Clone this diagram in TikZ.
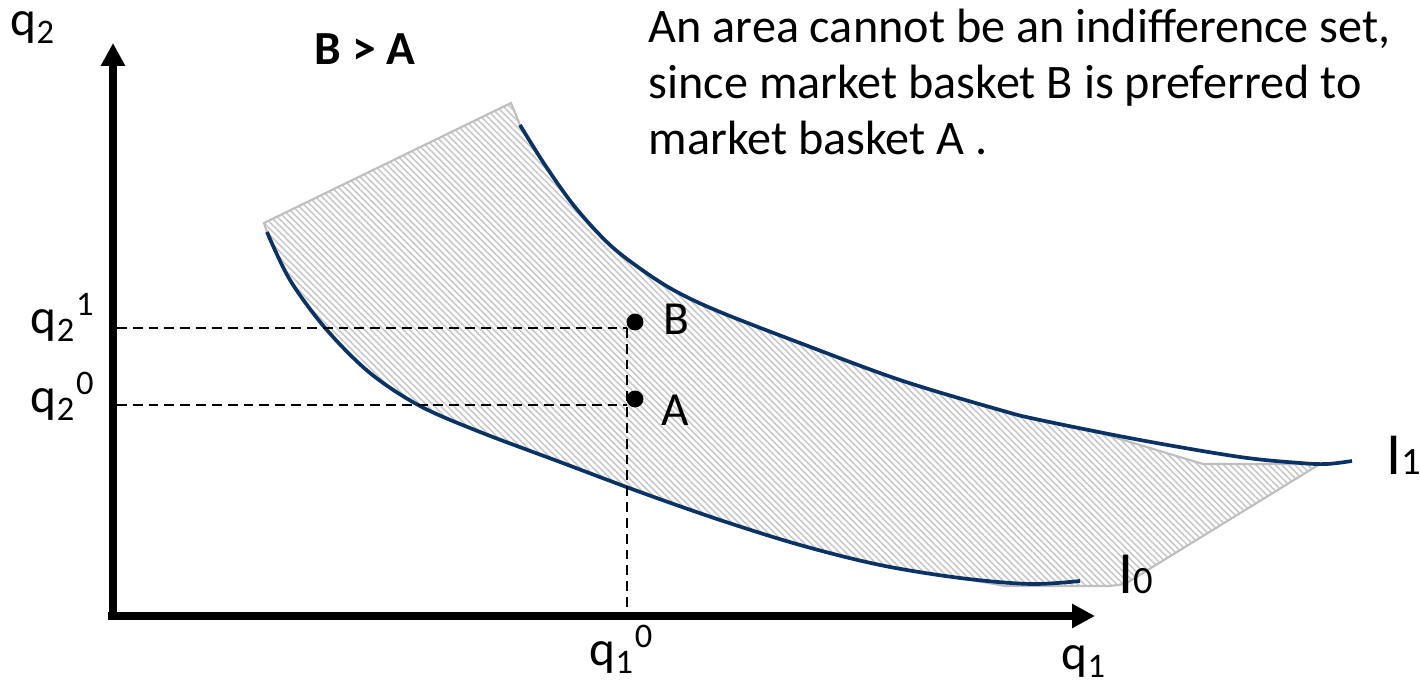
\documentclass[tikz,border=0pt]{standalone}
\usepackage{fontspec}
\setmainfont{Carlito}
\usetikzlibrary{arrows.meta,patterns.meta}
\definecolor{curvenavy}{RGB}{10,50,100}
\definecolor{hatchgray}{RGB}{200,200,200}
\definecolor{edgegray}{RGB}{190,190,190}
\begin{document}
\begin{tikzpicture}[x=0.01cm,y=-0.01cm,
  axisline/.style={line width=2pt,-{Triangle[length=6.5pt,width=6.5pt]}},
  guide/.style={line width=0.75pt,dash pattern=on 2.8pt off 1.7pt},
  indiff/.style={curvenavy,line width=1.05pt},
  basket/.style={circle,fill=black,inner sep=0pt,minimum size=4.8pt},
  lbl/.style={inner sep=0pt,anchor=base west},
  lble/.style={inner sep=0pt,anchor=base east},
  qfont/.style={font=\fontsize{14}{16}\selectfont},
  bigfont/.style={font=\fontsize{13.5}{16}\selectfont},
  mainfont/.style={font=\fontsize{13.7}{16}\selectfont}]
\useasboundingbox (0,0) rectangle (1420,683);

% shaded area
\path[draw=edgegray,line width=0.6pt,
      pattern={Lines[angle=-45,distance=1.3pt,line width=0.45pt]},pattern color=hatchgray]
  (264,223) -- (511,103) --
  plot[smooth,tension=0.55] coordinates {(520,125) (545,165) (575,207) (610,245) (645,272) (677,292) (720,312) (800,343) (900,380) (1000,410) (1100,433)}
  -- (1203,464) -- (1320,464) -- (1125,584) -- (1110,586) -- (1005,586) --
  plot[smooth,tension=0.55] coordinates {(960,578) (880,565) (800,545) (720,520) (640,492) (560,462) (480,432) (420,406) (370,373) (326,329) (290,280) (267,232)}
  -- cycle;

% indifference curves
\draw[indiff] plot[smooth,tension=0.55] coordinates {(520,125) (545,165) (575,207) (610,245) (645,272) (677,292) (720,312) (800,343) (900,380) (1000,410) (1040,420) (1140,440) (1240,457) (1300,463) (1327,464) (1352,461)};
\draw[indiff] plot[smooth,tension=0.55] coordinates {(267,232) (290,280) (326,329) (370,373) (420,406) (480,432) (560,462) (640,492) (720,520) (800,545) (880,565) (960,578) (1030,584) (1080,581)};

% coordinates
\coordinate (vbot) at (113,619);
\coordinate (vtop) at (113,43);
\coordinate (hleft) at (108,616);
\coordinate (hright) at (1095,616);
\coordinate (y1) at (117,328);
\coordinate (y0) at (117,405);
\coordinate (x0) at (627,613);
\coordinate (c1) at (627,328);
\coordinate (c0) at (627,405);

% guides
\draw[guide] (y1) -- (c1);
\draw[guide] (y0) -- (c0);
\draw[guide] (c1) -- (x0);

% axes
\draw[axisline] (vbot) -- (vtop);
\draw[axisline] (hleft) -- (hright);

% baskets
\node[basket] (B) at (635,322) {};
\node[basket] (A) at (635,399) {};
\node[lbl,bigfont] (Blab) at (663,335) {B};
\node[lbl,bigfont] (Alab) at (661,426) {A};

% axis labels
\node[lbl,qfont] (q2lab) at (10,36) {q\textsubscript{2}};
\node[lbl,qfont] (q1lab) at (1061,670) {q\textsubscript{1}};
\node[lble,qfont] (q21lab) at (96,334) {q\textsubscript{2}\textsuperscript{1}};
\node[lble,qfont] (q20lab) at (96,413) {q\textsubscript{2}\textsuperscript{0}};
\node[lbl,qfont] (q10lab) at (589,666) {q\textsubscript{1}\textsuperscript{0}};

% curve labels
\node[lbl] (I1lab) at (1386,475) {\fontsize{17}{20}\selectfont I\fontsize{11}{13}\selectfont 1};
\node[lbl] (I0lab) at (1118,594) {\fontsize{17}{20}\selectfont I\fontsize{11}{13}\selectfont 0};

% titles
\node[lbl,bigfont] (pref) at (314,65) {\bfseries B > A};
\node[lbl,mainfont] (line1) at (648,43) {An area cannot be an indifference set,};
\node[lbl,mainfont] (line2) at (648,99) {since market basket B is preferred to};
\node[lbl,mainfont] (line3) at (648,155) {market basket A .};
\end{tikzpicture}
\end{document}
